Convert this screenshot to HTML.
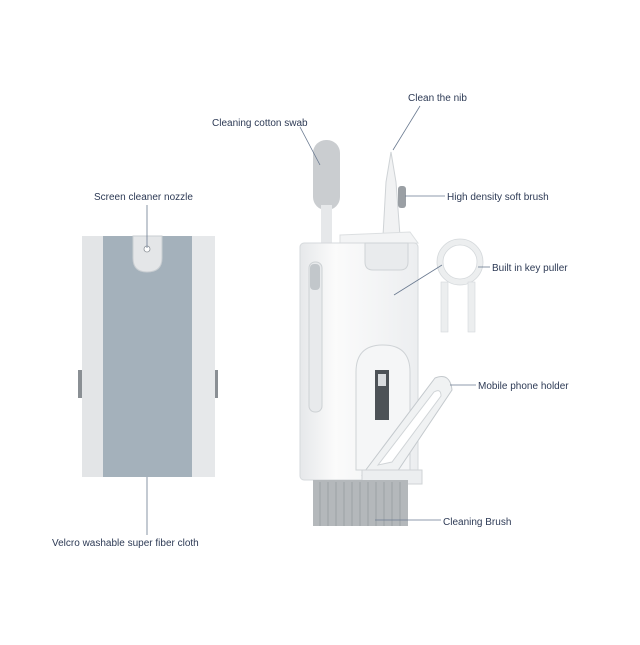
<!DOCTYPE html>
<html><head><meta charset="utf-8"><style>
body{margin:0;width:640px;height:640px;background:#fff;overflow:hidden;font-family:"Liberation Sans",sans-serif}
</style></head><body>
<svg width="640" height="640" viewBox="0 0 640 640" xmlns="http://www.w3.org/2000/svg">
<defs>
<linearGradient id="wh" x1="0" x2="1"><stop offset="0" stop-color="#e6e8ea"/><stop offset="0.3" stop-color="#fbfbfb"/><stop offset="1" stop-color="#eceef0"/></linearGradient>
</defs>
<g font-size="10" fill="#2d3a55">
<text x="94" y="200">Screen cleaner nozzle</text>
<text x="52" y="546">Velcro washable super fiber cloth</text>
<text x="212" y="126">Cleaning cotton swab</text>
<text x="408" y="101">Clean the nib</text>
<text x="447" y="200">High density soft brush</text>
<text x="492" y="271">Built in key puller</text>
<text x="478" y="389">Mobile phone holder</text>
<text x="443" y="525">Cleaning Brush</text>
</g>
<!-- left device -->
<rect x="78" y="370" width="5" height="28" fill="#8a8f94"/>
<rect x="213" y="370" width="5" height="28" fill="#8a8f94"/>
<rect x="82" y="236" width="133" height="241" fill="#eceeef"/>
<rect x="82" y="236" width="22" height="241" fill="#e3e5e7"/>
<rect x="191" y="236" width="24" height="241" fill="#e6e8ea"/>
<rect x="103" y="236" width="89" height="241" fill="#a4b1bb"/>
<path d="M133 236 L133 258 Q133 272 147 272 Q162 272 162 258 L162 236 Z" fill="#e4e6e8" stroke="#c9ced2"/>
<circle cx="147" cy="249" r="3" fill="#fff" stroke="#8a9096" stroke-width="0.8"/>
<!-- swab -->
<rect x="313" y="140" width="27" height="70" rx="13" fill="#cacdd0"/>
<rect x="321" y="205" width="11" height="40" fill="#e6e8ea"/>
<!-- pen -->
<path d="M391 152 L396 182 L400 236 L383 236 L386 182 Z" fill="#f1f2f3" stroke="#cfd3d6"/>
<rect x="398" y="186" width="8" height="22" rx="3" fill="#9a9fa4"/>
<!-- key puller -->
<circle cx="460" cy="262" r="20" fill="none" stroke="#eceeef" stroke-width="6"/>
<circle cx="460" cy="262" r="23" fill="none" stroke="#d4d8db" stroke-width="0.8"/>
<circle cx="460" cy="262" r="17" fill="none" stroke="#d4d8db" stroke-width="0.8"/>
<rect x="441" y="282" width="7" height="50" fill="#eceeef" stroke="#d4d8db" stroke-width="0.6"/>
<rect x="468" y="282" width="7" height="50" fill="#eceeef" stroke="#d4d8db" stroke-width="0.6"/>
<!-- body -->
<path d="M340 235 L410 232 L418 243 L340 248 Z" fill="#f3f4f5" stroke="#dcdfe1"/>
<rect x="300" y="243" width="118" height="237" rx="4" fill="url(#wh)" stroke="#d6d9dc"/>
<path d="M365 243 L365 262 Q365 270 373 270 L400 270 Q408 270 408 262 L408 243 Z" fill="#e9ebed" stroke="#cfd3d6"/>
<rect x="309" y="262" width="13" height="150" rx="6" fill="#e8eaec" stroke="#cdd1d4"/>
<rect x="310" y="264" width="10" height="26" rx="4" fill="#c2c7cb"/>
<!-- holder arch -->
<path d="M356 470 L356 372 Q356 345 383 345 Q410 345 410 372 L410 470 Z" fill="#f5f6f7" stroke="#cfd3d6"/>
<rect x="375" y="370" width="14" height="50" fill="#4d5257"/>
<rect x="378" y="374" width="8" height="12" fill="#d9dcdf"/>
<path d="M362 475 L435 378 Q450 372 452 390 L395 475 Z" fill="#f0f2f3" stroke="#c4c9cd"/>
<path d="M378 465 L434 392 Q441 388 441 396 L392 462 Z" fill="#fff" stroke="#d0d4d7"/>
<rect x="362" y="470" width="60" height="14" fill="#eceef0" stroke="#cfd3d6"/>
<!-- brush -->
<rect x="313" y="480" width="95" height="46" fill="#b4b8bb"/>
<g stroke="#9da2a6" stroke-width="1">
<line x1="320" y1="482" x2="320" y2="526"/><line x1="328" y1="482" x2="328" y2="526"/><line x1="336" y1="482" x2="336" y2="526"/><line x1="344" y1="482" x2="344" y2="526"/><line x1="352" y1="482" x2="352" y2="526"/><line x1="360" y1="482" x2="360" y2="526"/><line x1="368" y1="482" x2="368" y2="526"/><line x1="376" y1="482" x2="376" y2="526"/><line x1="384" y1="482" x2="384" y2="526"/><line x1="392" y1="482" x2="392" y2="526"/><line x1="400" y1="482" x2="400" y2="526"/>
</g>
<g stroke="#6a7a90" stroke-width="0.8" fill="none">
<line x1="147" y1="205" x2="147" y2="248"/>
<line x1="147" y1="477" x2="147" y2="535"/>
<line x1="300" y1="127" x2="320" y2="165"/>
<line x1="420" y1="106" x2="393" y2="150"/>
<line x1="405" y1="196" x2="445" y2="196"/>
<line x1="442" y1="265" x2="394" y2="295"/>
<line x1="478" y1="267" x2="490" y2="267"/>
<line x1="450" y1="385" x2="476" y2="385"/>
<line x1="375" y1="520" x2="441" y2="520"/>
</g>
</svg>
</body></html>
